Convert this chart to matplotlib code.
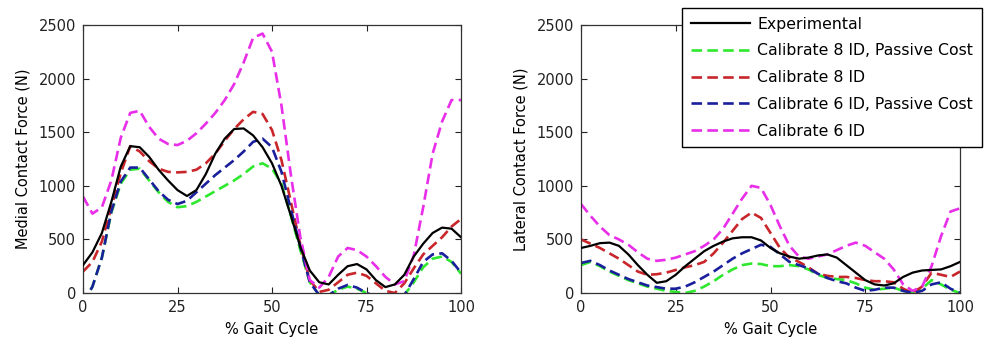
import matplotlib
matplotlib.use("Agg")
import matplotlib.pyplot as plt

plt.rcParams['font.family'] = ['DejaVu Sans']
plt.rcParams['font.size'] = 10

pct = [0, 2.5, 5, 7.5, 10, 12.5, 15, 17.5, 20, 22.5, 25, 27.5, 30, 32.5, 35, 37.5,
       40, 42.5, 45, 47.5, 50, 52.5, 55, 57.5, 60, 62.5, 65, 67.5, 70, 72.5, 75,
       77.5, 80, 82.5, 85, 87.5, 90, 92.5, 95, 97.5, 100]

labels = ["Experimental", "Calibrate 8 ID, Passive Cost", "Calibrate 8 ID",
          "Calibrate 6 ID, Passive Cost", "Calibrate 6 ID"]

# Medial contact force (N)
med_exp = [260, 380, 560, 850, 1180, 1370, 1360, 1270, 1150, 1050, 960, 905, 960, 1110,
           1300, 1440, 1530, 1535, 1470, 1360, 1210, 1000, 720, 430, 210, 100, 80, 170,
           250, 270, 220, 120, 55, 80, 170, 340, 460, 560, 610, 600, 520]
med_c8p = [-100, 60, 330, 750, 1020, 1150, 1160, 1050, 940, 850, 800, 810, 850, 900,
           950, 1000, 1050, 1110, 1180, 1210, 1160, 1020, 720, 400, 100, -20, -20, 30,
           60, 40, 0, -30, -40, -40, -20, 100, 240, 320, 340, 290, 180]
med_c8 = [200, 290, 480, 800, 1120, 1370, 1320, 1230, 1160, 1130, 1125, 1130, 1150, 1210,
          1300, 1420, 1530, 1620, 1690, 1670, 1520, 1240, 850, 450, 120, 10, 30, 100,
          170, 190, 160, 90, 20, 0, 90, 230, 360, 440, 520, 620, 690]
med_c6p = [-100, 60, 330, 760, 1040, 1170, 1170, 1060, 950, 870, 830, 860, 940, 1020,
           1100, 1170, 1240, 1320, 1410, 1440, 1360, 1130, 780, 430, 100, -20, -20, 40,
           75, 50, 0, -30, -40, -40, -20, 130, 290, 360, 370, 300, 190]
med_c6 = [900, 740, 800, 1050, 1450, 1680, 1700, 1550, 1440, 1390, 1380, 1420, 1490, 1580,
          1680, 1800, 1950, 2150, 2380, 2420, 2250, 1750, 1100, 520, 120, 50, 150, 340,
          420, 400, 340, 250, 150, 80, 110, 350, 800, 1300, 1600, 1800, 1800]

# Lateral contact force (N)
lat_exp = [420, 440, 465, 470, 440, 360, 260, 170, 95, 110, 170, 250, 320, 390, 440, 480,
           510, 520, 520, 490, 420, 370, 340, 320, 330, 350, 360, 330, 260, 190, 120, 80,
           70, 90, 150, 190, 210, 215, 220, 250, 290]
lat_c8p = [260, 290, 250, 200, 160, 120, 90, 60, 40, 20, 10, 0, 20, 60, 110, 170, 220,
           260, 275, 270, 250, 250, 260, 250, 220, 170, 140, 130, 120, 90, 50, 30, 40, 50,
           20, 10, 40, 120, 80, 30, 0]
lat_c8 = [500, 460, 420, 370, 320, 260, 200, 170, 175, 190, 215, 240, 260, 290, 370, 470,
          580, 690, 750, 700, 560, 420, 330, 290, 240, 180, 160, 150, 150, 140, 120, 110,
          110, 100, 40, 0, 60, 190, 170, 150, 200]
lat_c6p = [280, 300, 260, 210, 170, 130, 100, 70, 55, 40, 40, 60, 100, 150, 200, 260, 320,
           370, 410, 450, 430, 360, 290, 260, 230, 180, 140, 110, 90, 50, 20, 30, 50, 50,
           20, 0, 20, 80, 100, 40, 0]
lat_c6 = [830, 720, 620, 540, 500, 450, 380, 320, 300, 310, 330, 360, 390, 440, 500, 600,
          740, 880, 1000, 980, 820, 620, 440, 340, 320, 340, 360, 400, 440, 470, 440, 380,
          320, 220, 80, 20, 60, 250, 530, 760, 790]

colors = ['black', '#2ee82e', '#c8262a', '#1a1f9c', '#e82ee8']
styles = ['-', '--', '--', '--', '--']

fig = plt.figure(figsize=(10.03, 3.46), dpi=100)
W, H = 1003, 346
axL = fig.add_axes([83 / W, (H - 293) / H, 378 / W, 268 / H])
axR = fig.add_axes([581 / W, (H - 293) / H, 379 / W, 268 / H])

panels = [
    (axL, [med_exp, med_c8p, med_c8, med_c6p, med_c6], "Medial Contact Force (N)"),
    (axR, [lat_exp, lat_c8p, lat_c8, lat_c6p, lat_c6], "Lateral Contact Force (N)"),
]

handles = []
for ax, series, ylab in panels:
    hs = []
    for vals, c, ls, lab in zip(series, colors, styles, labels):
        if ls == '-':
            h, = ax.plot(pct, vals, color=c, lw=1.6, label=lab, zorder=5)
        else:
            h, = ax.plot(pct, vals, color=c, lw=1.9, ls='--', dashes=(4, 2), label=lab)
        hs.append(h)
    handles = hs
    ax.set_xlim(0, 100)
    ax.set_ylim(0, 2500)
    ax.set_xticks([0, 25, 50, 75, 100])
    ax.set_yticks([0, 500, 1000, 1500, 2000, 2500])
    ax.tick_params(direction='in', length=4, width=0.8, top=True, right=True,
                   labelsize=10.5, colors='#222222', pad=5)
    for s in ax.spines.values():
        s.set_linewidth(0.9)
        s.set_color('#333333')
    ax.set_xlabel("% Gait Cycle", fontsize=10.5, labelpad=5)
    ax.set_ylabel(ylab, fontsize=10.5, labelpad=6)

leg = fig.legend(handles, labels, loc='upper left',
                 bbox_to_anchor=(682 / W, 1 - 8 / H), bbox_transform=fig.transFigure,
                 borderaxespad=0, fancybox=False, framealpha=1, edgecolor='black',
                 handlelength=3.8, handletextpad=0.45, labelspacing=0.75,
                 borderpad=0.55, fontsize=11.3)
leg.get_frame().set_linewidth(1.0)

fig.savefig("out.png", dpi=100)
